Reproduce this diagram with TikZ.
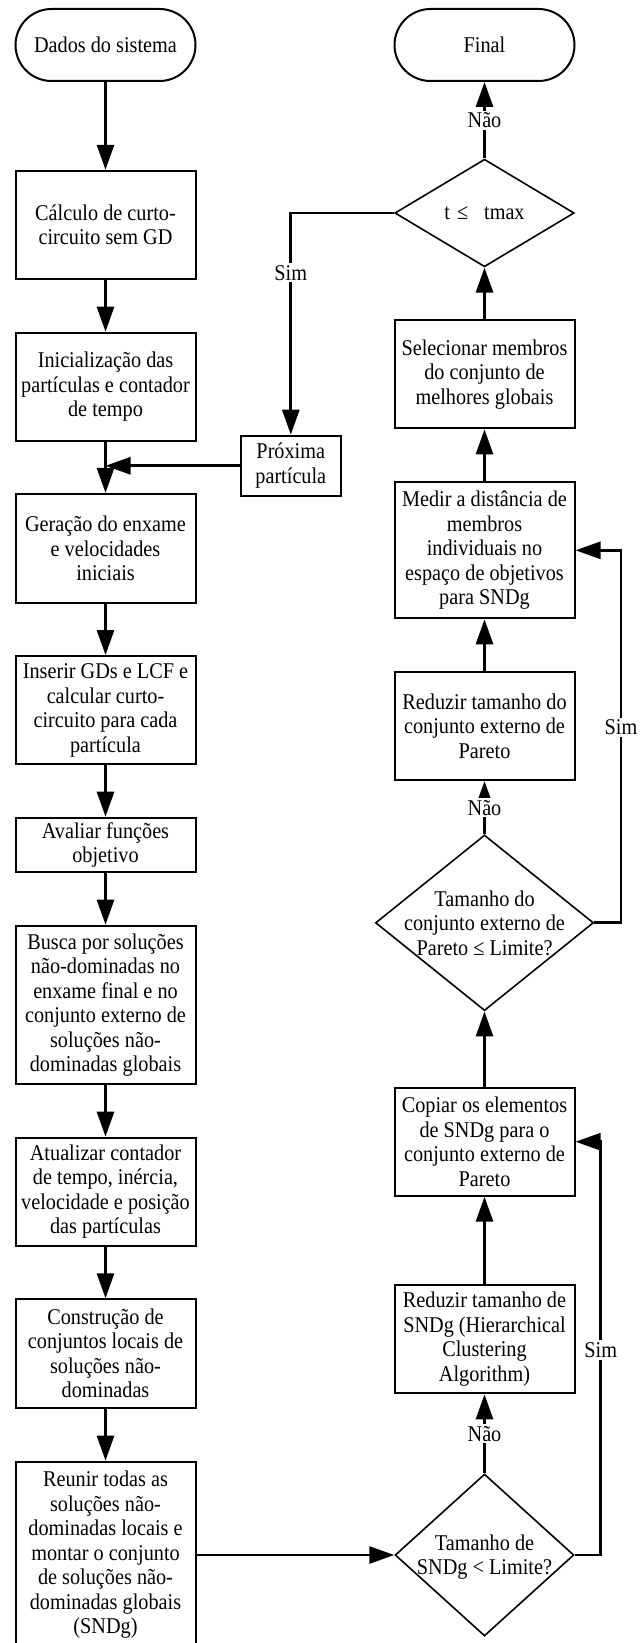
\documentclass[tikz,border=0pt]{standalone}
\usepackage{fontspec}
\setmainfont{Liberation Serif}[FakeStretch=0.9]
\usetikzlibrary{arrows.meta,shapes.geometric}
\begin{document}
\begin{tikzpicture}[x=1pt,y=-1pt,
  every node/.style={font=\fontsize{22.5}{24.5}\selectfont, inner sep=0pt, align=center},
  procbox/.style={draw, line width=2pt, rectangle, minimum width=180pt, minimum height=#1},
  termbox/.style={draw, line width=2pt, rectangle, rounded corners=36pt, minimum width=180pt, minimum height=72pt},
  decision/.style n args={2}{draw, line width=1.6pt, diamond, minimum width=#1, minimum height=#2},
  conn/.style={line width=2.8pt, -{Triangle[length=25pt,width=17pt]}},
  lbl/.style={fill=white, inner sep=2pt},
]
\useasboundingbox (0,0) rectangle (640,1643);

% ---- left column: main particle swarm loop ----
\node[termbox] (start) at (105.5,45) {Dados do sistema};
\node[procbox=108.3pt] (b1) at (105.5,224.9) {Cálculo de curto-\\circuito sem GD};
\node[procbox=108pt] (b2) at (105.5,386.7) {Inicialização das\\partículas e contador\\de tempo};
\node[procbox=108.7pt] (b3) at (105.5,548.3) {Geração do enxame\\e velocidades\\iniciais};
\node[procbox=108.3pt] (b4) at (105.5,710.2) {Inserir GDs e LCF e\\calcular curto-\\circuito para cada\\partícula};
\node[procbox=54.6pt] (b5) at (105.5,845) {Avaliar funções\\objetivo};
\node[procbox=158.6pt] (b6) at (105.5,1005) {Busca por soluções\\não-dominadas no\\enxame final e no\\conjunto externo de\\soluções não-\\dominadas globais};
\node[procbox=108.3pt] (b7) at (105.5,1191.8) {Atualizar contador\\de tempo, inércia,\\velocidade e posição\\das partículas};
\node[procbox=108.4pt] (b8) at (105.5,1353.5) {Construção de\\conjuntos locais de\\soluções não-\\dominadas};
\node[procbox=186.6pt] (b9) at (105.5,1555) {Reunir todas as\\soluções não-\\dominadas locais e\\montar o conjunto\\de soluções não-\\dominadas globais\\(SNDg)};

\node[draw, line width=2pt, minimum width=100.5pt, minimum height=60.3pt] (prox) at (290.8,465.8) {Próxima\\partícula};

% ---- right column: external archive handling ----
\node[termbox] (final) at (484.5,45) {Final};
\node[decision={179.4pt}{107.6pt}] (d1) at (484.5,213) {};
\node (d1t) at (484.5,213) {t\hspace{7pt}≤\hspace{16pt}tmax};
\node[procbox=108.3pt] (r1) at (484.5,374.2) {Selecionar membros\\do conjunto de\\melhores globais};
\node[procbox=136pt] (r2) at (484.5,550.3) {Medir a distância de\\membros\\individuais no\\espaço de objetivos\\para SNDg};
\node[procbox=107.7pt] (r3) at (484.5,726.2) {Reduzir tamanho do\\conjunto externo de\\Pareto};
\node[decision={218pt}{175.7pt}] (d2) at (484.5,922.8) {};
\node (d2t) at (484.5,923) {Tamanho do\\conjunto externo de\\Pareto ≤ Limite?};
\node[procbox=108pt] (r4) at (484.5,1141.7) {Copiar os elementos\\de SNDg para o\\conjunto externo de\\Pareto};
\node[procbox=108.3pt] (r5) at (484.5,1339.2) {Reduzir tamanho de\\SNDg (Hierarchical\\Clustering\\Algorithm)};
\node[decision={178.8pt}{162pt}] (d3) at (484.5,1555) {};
\node (d3t) at (484.5,1557) {Tamanho de\\SNDg < Limite?};

% ---- bend points ----
\coordinate (k1) at (290.8,213);
\coordinate (k2) at (621,922.8);
\coordinate (k3) at (600.8,1555);
\coordinate (jn) at (105.5,465.8);

% ---- left column flow ----
\draw[conn] (start) -- (b1);
\draw[conn] (b1) -- (b2);
\draw[conn] (b2) -- (b3);
\draw[conn] (b3) -- (b4);
\draw[conn] (b4) -- (b5);
\draw[conn] (b5) -- (b6);
\draw[conn] (b6) -- (b7);
\draw[conn] (b7) -- (b8);
\draw[conn] (b8) -- (b9);
\draw[conn] (b9.east) -- (d3.west);

% ---- right column flow ----
\draw[conn] (d3.north) -- node[lbl] (n3) {Não} (r5.south);
\draw[conn] (d3.east) -- (k3) |- (r4.east);
\node[lbl] (s3) at (600.8,1350) {Sim};
\draw[conn] (r5) -- (r4);
\draw[conn] (r4.north) -- (d2.south);
\draw[conn] (d2.north) -- node[lbl] (n2) {Não} (r3.south);
\draw[conn] (d2.east) -- (k2) |- (r2.east);
\node[lbl] (s2) at (621,727.3) {Sim};
\draw[conn] (r3) -- (r2);
\draw[conn] (r2) -- (r1);
\draw[conn] (r1.north) -- (d1.south);
\draw[conn] (d1.north) -- node[lbl] (n1) {Não} (final.south);

% ---- loop back to the next particle ----
\draw[conn] (d1.west) -- (k1) -- (prox.north);
\node[lbl] (s1) at (290.8,272.7) {Sim};
\draw[conn] (prox.west) -- (jn);
\end{tikzpicture}
\end{document}
